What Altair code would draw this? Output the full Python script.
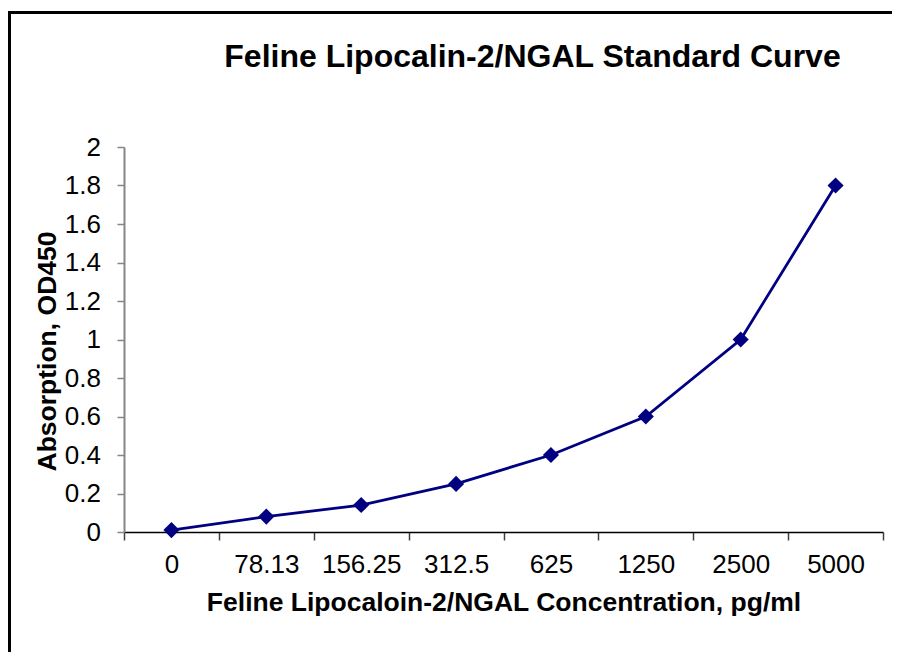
import altair as alt
import pandas as pd

# Data
concentrations = ["0", "78.13", "156.25", "312.5", "625", "1250", "2500", "5000"]
absorbance = [0.01, 0.08, 0.14, 0.25, 0.40, 0.60, 1.00, 1.80]
y_ticks = [0, 0.2, 0.4, 0.6, 0.8, 1.0, 1.2, 1.4, 1.6, 1.8, 2.0]

title_text = "Feline Lipocalin-2/NGAL Standard Curve"
x_title = "Feline Lipocaloin-2/NGAL Concentration, pg/ml"
y_title = "Absorption,  OD450"

df = pd.DataFrame({"conc": concentrations, "od": absorbance})

FONT = "Liberation Sans"
NAVY = "#000080"

x_enc = alt.X(
    "conc:N",
    sort=concentrations,
    bandPosition=0.5,
    scale=alt.Scale(type="band", paddingInner=0, paddingOuter=0),
    axis=alt.Axis(
        title=x_title,
        labelAngle=0,
        labelFontSize=26,
        labelFont=FONT,
        labelColor="#000000",
        labelPadding=11.5,
        labelOverlap=False,
        labelLimit=300,
        tickBand="extent",
        tickSize=8,
        tickColor="#404040",
        tickWidth=1.5,
        domainColor="#000000",
        domainWidth=1.5,
        grid=False,
        titleFont=FONT,
        titleFontSize=26.5,
        titleFontWeight="bold",
        titleColor="#000000",
        titleBaseline="alphabetic",
        titleY=78,
        titleLimit=900,
    ),
)

y_enc = alt.Y(
    "od:Q",
    scale=alt.Scale(domain=[0, 2], nice=False, zero=True),
    axis=alt.Axis(
        title=y_title,
        values=y_ticks,
        format="~g",
        labelFontSize=26,
        labelFont=FONT,
        labelColor="#000000",
        labelPadding=16.5,
        tickSize=7,
        tickColor="#868686",
        tickWidth=1.5,
        domainColor="#868686",
        domainWidth=2,
        grid=False,
        titleFont=FONT,
        titleFontSize=26.5,
        titleFontWeight="bold",
        titleColor="#000000",
        titleAngle=270,
        titleBaseline="alphabetic",
        titleAlign="center",
        titleX=-69,
        titleY=204,
        titleLimit=600,
    ),
)

base = alt.Chart(df)

line = base.mark_line(color=NAVY, strokeWidth=2.8).encode(x=x_enc, y=y_enc)
points = base.mark_point(
    shape="diamond", filled=True, color=NAVY, size=260, opacity=1
).encode(x=x_enc, y=y_enc)

# Decorative outer frame of the picture (not data)
frame = alt.Chart(alt.Data(values=[{"f": 1}])).mark_rect(
    fill="transparent", stroke="#000000", strokeWidth=3
).encode(
    x=alt.value(-114.5),
    x2=alt.value(800),
    y=alt.value(-134.5),
    y2=alt.value(540),
)

chart = (
    alt.layer(frame, line, points)
    .properties(
        width=759,
        height=385,
        padding={"left": 116, "top": 139, "right": 9, "bottom": 120},
        autosize=alt.AutoSizeParams(type="none"),
        background="#ffffff",
        title=alt.TitleParams(
            text=title_text,
            font=FONT,
            fontSize=32,
            fontWeight="bold",
            color="#000000",
            anchor="middle",
            dx=29,
            offset=-63,
        ),
    )
    .configure_view(strokeWidth=0)
)

chart.save("out.html", embed_options={"renderer": "svg", "actions": False})
